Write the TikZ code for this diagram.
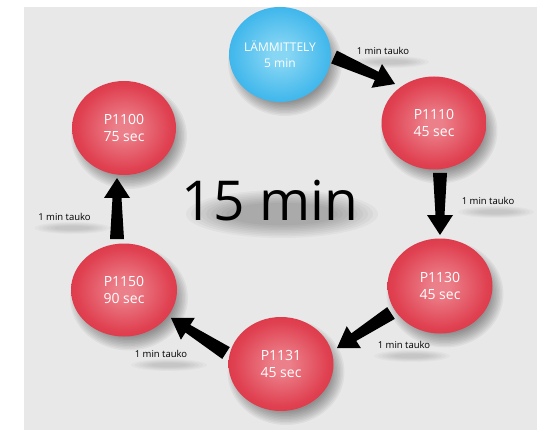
\documentclass[tikz,border=0pt]{standalone}
\usepackage{fontspec}
\setmainfont{Open Sans}
\usetikzlibrary{calc,shapes.geometric}
\definecolor{bg}{RGB}{232,232,232}
\definecolor{redc}{RGB}{236,128,138}
\definecolor{redm}{RGB}{224,66,82}
\definecolor{rede}{RGB}{210,34,50}
\definecolor{redr}{RGB}{188,24,38}
\definecolor{bluec}{RGB}{135,214,244}
\definecolor{bluem}{RGB}{66,184,236}
\definecolor{bluee}{RGB}{36,160,222}
\definecolor{bluer}{RGB}{28,140,200}
\pgfdeclareradialshading{redball}{\pgfpoint{0bp}{0bp}}{color(0bp)=(redc);color(4bp)=(redc);color(22bp)=(redm);color(38bp)=(rede);color(47bp)=(rede);color(50bp)=(redr)}
\pgfdeclareradialshading{blueball}{\pgfpoint{0bp}{0bp}}{color(0bp)=(bluec);color(4bp)=(bluec);color(24bp)=(bluem);color(40bp)=(bluee);color(47bp)=(bluee);color(50bp)=(bluer)}
\tikzset{
  ball/.style={ellipse, inner sep=0pt, text=white, align=center,
    font=\fontsize{14}{17.5}\selectfont},
  redbubble/.style={ball, shading=redball},
  bluebubble/.style={ball, shading=blueball, font=\fontsize{12}{16}\selectfont},
  pause/.style={font=\fontsize{9.5}{11}\selectfont, text=black, inner sep=0pt},
  arrowfill/.style={fill=black},
}
\newcommand\ballshadow[3]{% node, width, height
  \foreach \k in {0,...,9}{
    \fill[black,opacity=0.045] ([xshift=5pt,yshift=-8pt]#1.center) ellipse [x radius={#2/2+6pt-\k*1.5pt}, y radius={#3/2+6pt-\k*1.5pt}];
  }}
\newcommand\labelshadow[1]{%
  \foreach \k in {0,...,5}{
    \fill[black,opacity=0.025] ([xshift=8pt,yshift=-11pt]#1.center) ellipse [x radius={38pt-\k*4pt}, y radius={6pt-\k*0.8pt}];
  }}
\newcommand\fatarrow[2]{%
  \coordinate (fh) at ($(#2)!20pt!(#1)$);
  \fill[arrowfill] ($(#1)!7pt!90:(#2)$) -- ($(fh)!4.5pt!90:(#2)$) -- ($(fh)!13pt!90:(#2)$) -- (#2)
    -- ($(fh)!13pt!-90:(#2)$) -- ($(fh)!4.5pt!-90:(#2)$) -- ($(#1)!7pt!-90:(#2)$) -- cycle;}
\begin{document}
\begin{tikzpicture}[x=1pt,y=-1pt]
\useasboundingbox (0,0) rectangle (537,430);
\fill[white] (0,0) rectangle (537,430);
\fill[bg] (23.5,7) rectangle (537,430);

% coordinates of circles
\coordinate (cB) at (280,54.5);
\coordinate (c1) at (434,123);
\coordinate (c2) at (440,286);
\coordinate (c3) at (281,364);
\coordinate (c4) at (124,290);
\coordinate (c5) at (124,128);

% shadows
\ballshadow{cB}{102pt}{95pt}
\ballshadow{c1}{105pt}{93pt}
\ballshadow{c2}{105pt}{95pt}
\ballshadow{c3}{105pt}{94pt}
\ballshadow{c4}{106pt}{93pt}
\ballshadow{c5}{104pt}{94pt}

% soft shadow behind the big title
\foreach \k in {0,...,8}{
  \fill[black,opacity=0.03] (282,214) ellipse [x radius={96-\k*5}, y radius={24-\k*1.6}];
}

\node[font=\fontsize{55}{60}\selectfont, text=black] (title) at (270,201) {15 min};

% labels
\node[pause] (l1) at (383,51) {1 min tauko};
\node[pause] (l2) at (488,201) {1 min tauko};
\node[pause] (l3) at (404,345) {1 min tauko};
\node[pause] (l4) at (161,354) {1 min tauko};
\node[pause] (l5) at (64.5,217) {1 min tauko};
\labelshadow{l1}
\labelshadow{l2}
\labelshadow{l3}
\labelshadow{l4}
\labelshadow{l5}

% bubbles
\node[bluebubble, minimum width=102pt, minimum height=95pt] (warm) at (cB) {L\"AMMITTELY\\5 min};
\node[redbubble, minimum width=105pt, minimum height=93pt] (p1110) at (c1) {P1110\\45 sec};
\node[redbubble, minimum width=105pt, minimum height=95pt] (p1130) at (c2) {P1130\\45 sec};
\node[redbubble, minimum width=105pt, minimum height=94pt] (p1131) at (c3) {P1131\\45 sec};
\node[redbubble, minimum width=106pt, minimum height=93pt] (p1150) at (c4) {P1150\\90 sec};
\node[redbubble, minimum width=104pt, minimum height=94pt] (p1100) at (c5) {P1100\\75 sec};

% arrow ends
\coordinate (a1t) at (334,57);  \coordinate (a1h) at (395,84);
\coordinate (a2t) at (440,173); \coordinate (a2h) at (440,235);
\coordinate (a3t) at (391,313); \coordinate (a3h) at (337,348);
\coordinate (a4t) at (226,353); \coordinate (a4h) at (171,318);
\coordinate (a5t) at (117,239); \coordinate (a5h) at (117,178);

\fatarrow{a1t}{a1h}
\fatarrow{a2t}{a2h}
\fatarrow{a3t}{a3h}
\fatarrow{a4t}{a4h}
\fatarrow{a5t}{a5h}
\end{tikzpicture}
\end{document}
